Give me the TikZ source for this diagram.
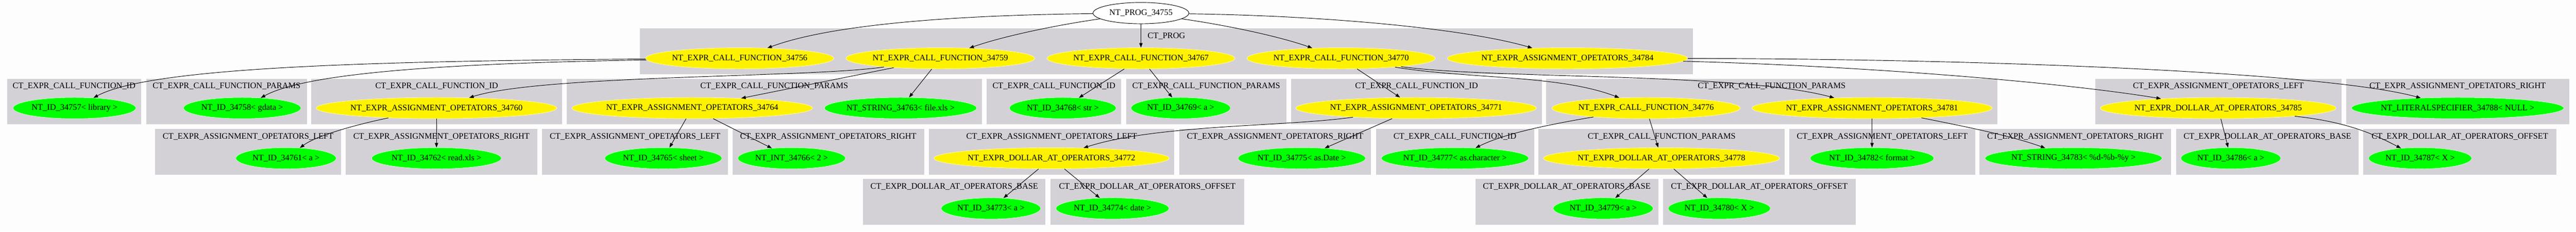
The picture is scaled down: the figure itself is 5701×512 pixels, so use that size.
\documentclass[tikz,border=0pt]{standalone}
\usepackage{fontspec}
\setmainfont{Liberation Serif}
\usetikzlibrary{shapes.geometric,arrows.meta}

\definecolor{clustergray}{RGB}{211,209,214}
\definecolor{paper}{RGB}{253,253,253}

\begin{document}
\begin{tikzpicture}[
        x=0.75pt, y=-0.75pt,
        every node/.style={font=\fontsize{14}{16}\selectfont},
        nt/.style={ellipse, draw=white, minimum height=35.25pt, inner xsep=-20pt, inner ysep=2pt},
        ntroot/.style={nt, draw=black, thick, fill=white, minimum width=#1*0.75pt},
        ntyellow/.style={nt, fill=yellow, minimum width=#1*0.75pt},
        ntgreen/.style={nt, fill=green, minimum width=#1*0.75pt},
        cluster/.style={fill=clustergray},
        clusterlabel/.style={anchor=base, inner sep=0pt},
        treeedge/.style={-{Triangle[length=7.5pt,width=5.5pt]}, thick}
        ]
        \fill[paper] (0,0) rectangle (5701,512);
        \useasboundingbox (0,0) rectangle (5701,512);

        % grey clusters: left, right, top, label
        \foreach \xa/\xb/\ya/\txt [count=\i] in {
            1416/3747/63/CT\_PROG,
            16/312/174/CT\_EXPR\_CALL\_FUNCTION\_ID,
            324/679/174/CT\_EXPR\_CALL\_FUNCTION\_PARAMS,
            689/1244/174/CT\_EXPR\_CALL\_FUNCTION\_ID,
            1254/2173/174/CT\_EXPR\_CALL\_FUNCTION\_PARAMS,
            2184/2481/174/CT\_EXPR\_CALL\_FUNCTION\_ID,
            2492/2847/174/CT\_EXPR\_CALL\_FUNCTION\_PARAMS,
            2857/3413/174/CT\_EXPR\_CALL\_FUNCTION\_ID,
            3422/4420/174/CT\_EXPR\_CALL\_FUNCTION\_PARAMS,
            4637/5182/174/CT\_EXPR\_ASSIGNMENT\_OPETATORS\_LEFT,
            5192/5686/174/CT\_EXPR\_ASSIGNMENT\_OPETATORS\_RIGHT,
            343/755/285/CT\_EXPR\_ASSIGNMENT\_OPETATORS\_LEFT,
            765/1189/285/CT\_EXPR\_ASSIGNMENT\_OPETATORS\_RIGHT,
            1200/1611/285/CT\_EXPR\_ASSIGNMENT\_OPETATORS\_LEFT,
            1621/2045/285/CT\_EXPR\_ASSIGNMENT\_OPETATORS\_RIGHT,
            2056/2599/285/CT\_EXPR\_ASSIGNMENT\_OPETATORS\_LEFT,
            2610/3034/285/CT\_EXPR\_ASSIGNMENT\_OPETATORS\_RIGHT,
            3045/3395/285/CT\_EXPR\_CALL\_FUNCTION\_ID,
            3405/3950/285/CT\_EXPR\_CALL\_FUNCTION\_PARAMS,
            3960/4371/285/CT\_EXPR\_ASSIGNMENT\_OPETATORS\_LEFT,
            4381/4805/285/CT\_EXPR\_ASSIGNMENT\_OPETATORS\_RIGHT,
            4816/5220/285/CT\_EXPR\_DOLLAR\_AT\_OPERATORS\_BASE,
            5230/5658/285/CT\_EXPR\_DOLLAR\_AT\_OPERATORS\_OFFSET,
            1910/2314/396/CT\_EXPR\_DOLLAR\_AT\_OPERATORS\_BASE,
            2325/2753/396/CT\_EXPR\_DOLLAR\_AT\_OPERATORS\_OFFSET,
            3265/3670/396/CT\_EXPR\_DOLLAR\_AT\_OPERATORS\_BASE,
            3680/4107/396/CT\_EXPR\_DOLLAR\_AT\_OPERATORS\_OFFSET}{
            \fill[cluster] (\xa,\ya) rectangle (\xb,\ya+101);
            \node[clusterlabel] (cl\i) at ({(\xa+\xb)/2},\ya+22) {\txt};
        }

        \node[ntroot=212] (prog) at (2525,29) {NT\_PROG\_34755};

        \node[ntyellow=417] (cf56) at (1637,129) {NT\_EXPR\_CALL\_FUNCTION\_34756};
        \node[ntyellow=418] (cf59) at (2081,129) {NT\_EXPR\_CALL\_FUNCTION\_34759};
        \node[ntyellow=416] (cf67) at (2525,129) {NT\_EXPR\_CALL\_FUNCTION\_34767};
        \node[ntyellow=417] (cf70) at (2968,129) {NT\_EXPR\_CALL\_FUNCTION\_34770};
        \node[ntyellow=532] (as84) at (3469,129) {NT\_EXPR\_ASSIGNMENT\_OPETATORS\_34784};

        \node[ntgreen=272] (id57) at (165,239) {NT\_ID\_34757< library >};
        \node[ntgreen=260] (id58) at (536,239) {NT\_ID\_34758< gdata >};
        \node[ntyellow=533] (as60) at (966,239) {NT\_EXPR\_ASSIGNMENT\_OPETATORS\_34760};
        \node[ntyellow=533] (as64) at (1532,239) {NT\_EXPR\_ASSIGNMENT\_OPETATORS\_34764};
        \node[ntgreen=337] (st63) at (1993,239) {NT\_STRING\_34763< file.xls >};
        \node[ntgreen=236] (id68) at (2352,239) {NT\_ID\_34768< str >};
        \node[ntgreen=220] (id69) at (2613,239) {NT\_ID\_34769< a >};
        \node[ntyellow=533] (as71) at (3134,239) {NT\_EXPR\_ASSIGNMENT\_OPETATORS\_34771};
        \node[ntyellow=417] (cf76) at (3643,239) {NT\_EXPR\_CALL\_FUNCTION\_34776};
        \node[ntyellow=532] (as81) at (4143,239) {NT\_EXPR\_ASSIGNMENT\_OPETATORS\_34781};
        \node[ntyellow=522] (da85) at (4909,239) {NT\_EXPR\_DOLLAR\_AT\_OPERATORS\_34785};
        \node[ntgreen=470] (ls88) at (5439,239) {NT\_LITERALSPECIFIER\_34788< NULL >};

        \node[ntgreen=222] (id61) at (633,350) {NT\_ID\_34761< a >};
        \node[ntgreen=287] (id62) at (966,350) {NT\_ID\_34762< read.xls >};
        \node[ntgreen=259] (id65) at (1468,350) {NT\_ID\_34765< sheet >};
        \node[ntgreen=238] (in66) at (1752,350) {NT\_INT\_34766< 2 >};
        \node[ntyellow=521] (da72) at (2327,350) {NT\_EXPR\_DOLLAR\_AT\_OPERATORS\_34772};
        \node[ntgreen=282] (id75) at (2881,350) {NT\_ID\_34775< as.Date >};
        \node[ntgreen=326] (id77) at (3220,350) {NT\_ID\_34777< as.character >};
        \node[ntyellow=523] (da78) at (3677,350) {NT\_EXPR\_DOLLAR\_AT\_OPERATORS\_34778};
        \node[ntgreen=274] (id82) at (4143,350) {NT\_ID\_34782< format >};
        \node[ntgreen=392] (st83) at (4589,350) {NT\_STRING\_34783< \%d-\%b-\%y >};
        \node[ntgreen=221] (id86) at (4937,350) {NT\_ID\_34786< a >};
        \node[ntgreen=228] (id87) at (5356,350) {NT\_ID\_34787< X >};

        \node[ntgreen=220] (id73) at (2193,461) {NT\_ID\_34773< a >};
        \node[ntgreen=250] (id74) at (2462,461) {NT\_ID\_34774< date >};
        \node[ntgreen=221] (id79) at (3548,461) {NT\_ID\_34779< a >};
        \node[ntgreen=226] (id80) at (3805,461) {NT\_ID\_34780< X >};

        % edges of the tree
        \draw[treeedge] (prog) .. controls (2150,33) and (1850,50) .. (cf56);
        \draw[treeedge] (prog) .. controls (2340,55) and (2220,80) .. (cf59);
        \draw[treeedge] (prog) -- (cf67);
        \draw[treeedge] (prog) .. controls (2710,55) and (2830,80) .. (cf70);
        \draw[treeedge] (prog) .. controls (2950,35) and (3250,65) .. (as84);

        \draw[treeedge] (cf56) .. controls (800,135) and (330,150) .. (id57);
        \draw[treeedge] (cf56) .. controls (1000,140) and (680,160) .. (id58);
        \draw[treeedge] (cf59) .. controls (1800,172) and (1200,165) .. (as60);
        \draw[treeedge] (cf59) -- (as64);
        \draw[treeedge] (cf59) -- (st63);
        \draw[treeedge] (cf67) -- (id68);
        \draw[treeedge] (cf67) -- (id69);
        \draw[treeedge] (cf70) -- (as71);
        \draw[treeedge] (cf70) .. controls (3250,175) and (3450,165) .. (cf76);
        \draw[treeedge] (cf70) .. controls (3300,175) and (3850,160) .. (as81);
        \draw[treeedge] (as84) .. controls (4100,145) and (4550,180) .. (da85);
        \draw[treeedge] (as84) .. controls (4400,130) and (5150,160) .. (ls88);

        \draw[treeedge] (as60) .. controls (790,275) and (700,300) .. (id61);
        \draw[treeedge] (as60) -- (id62);
        \draw[treeedge] (as64) -- (id65);
        \draw[treeedge] (as64) -- (in66);
        \draw[treeedge] (as71) .. controls (2850,280) and (2560,275) .. (da72);
        \draw[treeedge] (as71) -- (id75);
        \draw[treeedge] (cf76) .. controls (3430,275) and (3330,295) .. (id77);
        \draw[treeedge] (cf76) -- (da78);
        \draw[treeedge] (as81) -- (id82);
        \draw[treeedge] (as81) .. controls (4350,280) and (4450,300) .. (st83);
        \draw[treeedge] (da85) -- (id86);
        \draw[treeedge] (da85) .. controls (5200,270) and (5260,300) .. (id87);

        \draw[treeedge] (da72) -- (id73);
        \draw[treeedge] (da72) -- (id74);
        \draw[treeedge] (da78) -- (id79);
        \draw[treeedge] (da78) -- (id80);
    \end{tikzpicture}
\end{document}
